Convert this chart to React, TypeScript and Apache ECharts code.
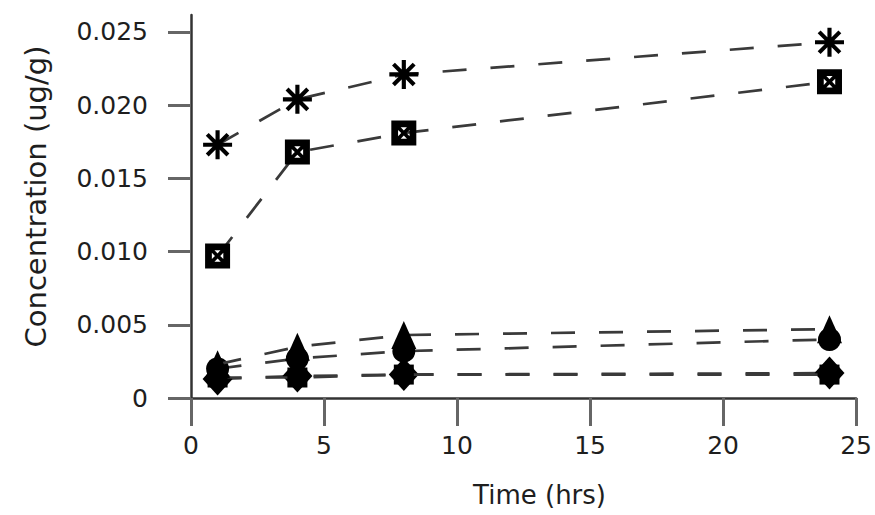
import React, { useEffect, useRef } from "react";
import * as echarts from "echarts";

// Sampling times (hours)
const timeHrs = [1, 4, 8, 24];

// Concentrations (ug/g) per marker series
const concAsterisk = [0.0173, 0.0204, 0.0221, 0.0243];
const concBoxed = [0.0097, 0.0168, 0.0181, 0.0216];
const concTriangle = [0.0023, 0.0035, 0.0043, 0.0047];
const concCircle = [0.002, 0.0027, 0.0032, 0.004];
const concSquare = [0.0014, 0.0014, 0.0016, 0.0016];
const concDiamond = [0.0013, 0.0015, 0.0016, 0.0017];

// Axis tick values
const xTicks = [0, 5, 10, 15, 20, 25];
const yTicks = [0, 0.005, 0.01, 0.015, 0.02, 0.025];

// Asterisk: four crossing bars
const ASTERISK =
  "path://M0,12 L28,12 L28,16 L0,16 Z " +
  "M12,0 L16,0 L16,28 L12,28 Z " +
  "M5.4,2.6 L25.4,22.6 L22.6,25.4 L2.6,5.4 Z " +
  "M22.6,2.6 L25.4,5.4 L5.4,25.4 L2.6,22.6 Z";

// Square with a cross inside (four small holes between the arms)
const BOXED =
  "path://M0,0 L24,0 L24,24 L0,24 Z " +
  "M9,6.5 L12,9.5 L15,6.5 Z " +
  "M17.5,9 L14.5,12 L17.5,15 Z " +
  "M15,17.5 L12,14.5 L9,17.5 Z " +
  "M6.5,15 L9.5,12 L6.5,9 Z";

const pairs = (ys: number[]) => timeHrs.map((t, i) => [t, ys[i]]);

const dash = { color: "#3a3a3a", width: 2.7, type: [24, 24] as number[] };

export default function App() {
  const ref = useRef<HTMLDivElement>(null);

  useEffect(() => {
    if (!ref.current) return;
    const chart = echarts.init(ref.current, null, { renderer: "svg" });
    const font = "DejaVu Sans";
    const mk = (name: string, ys: number[], symbol: string, size: any, z = 2) => ({
      name,
      type: "line",
      data: pairs(ys),
      symbol,
      symbolSize: size,
      showAllSymbol: true,
      z,
      lineStyle: dash,
      itemStyle: { color: "#000", borderWidth: 0 },
      emphasis: { disabled: true },
    });
    chart.setOption({
      animation: false,
      backgroundColor: "#fff",
      grid: { left: 183, right: 9, top: 15, bottom: 117, containLabel: false },
      xAxis: {
        type: "value",
        min: -0.3,
        max: 25,
        axisLine: { show: true, lineStyle: { color: "#333", width: 2.5 } },
        axisTick: {
          show: true,
          length: 28,
          customValues: xTicks,
          lineStyle: { color: "#666", width: 3 },
        },
        axisLabel: {
          customValues: xTicks,
          margin: 35,
          fontFamily: font,
          fontSize: 25,
          color: "#1e1e1e",
        },
        splitLine: { show: false },
        name: "Time (hrs)",
        nameLocation: "middle",
        nameGap: 84,
        nameTextStyle: { fontFamily: font, fontSize: 26, color: "#1e1e1e", padding: [0, 0, 0, 40] },
      },
      yAxis: {
        type: "value",
        min: 0,
        max: 0.02616,
        axisLine: { show: true, lineStyle: { color: "#333", width: 2.5 } },
        axisTick: {
          show: true,
          length: 23,
          customValues: yTicks,
          lineStyle: { color: "#666", width: 3 },
        },
        axisLabel: {
          customValues: yTicks,
          margin: 35,
          fontFamily: font,
          fontSize: 25,
          color: "#1e1e1e",
          formatter: (v: number) => (v === 0 ? "0" : v.toFixed(3)),
        },
        splitLine: { show: false },
        name: "Concentration (ug/g)",
        nameLocation: "middle",
        nameGap: 133,
        nameTextStyle: { fontFamily: font, fontSize: 29, color: "#1e1e1e", padding: [0, 0, 0, 20] },
      },
      series: [
        mk("asterisk", concAsterisk, ASTERISK, 29),
        mk("boxed", concBoxed, BOXED, 25),
        mk("circle", concCircle, "circle", 23),
        mk("triangle", concTriangle, "triangle", [25, 28], 3),
        mk("diamond", concDiamond, "diamond", [30, 33]),
        mk("square", concSquare, "rect", 20, 3),
      ],
    });
    return () => chart.dispose();
  }, []);

  return (
    <div
      ref={ref}
      style={{ position: "fixed", left: 0, top: 0, width: 875, height: 515 }}
    />
  );
}
